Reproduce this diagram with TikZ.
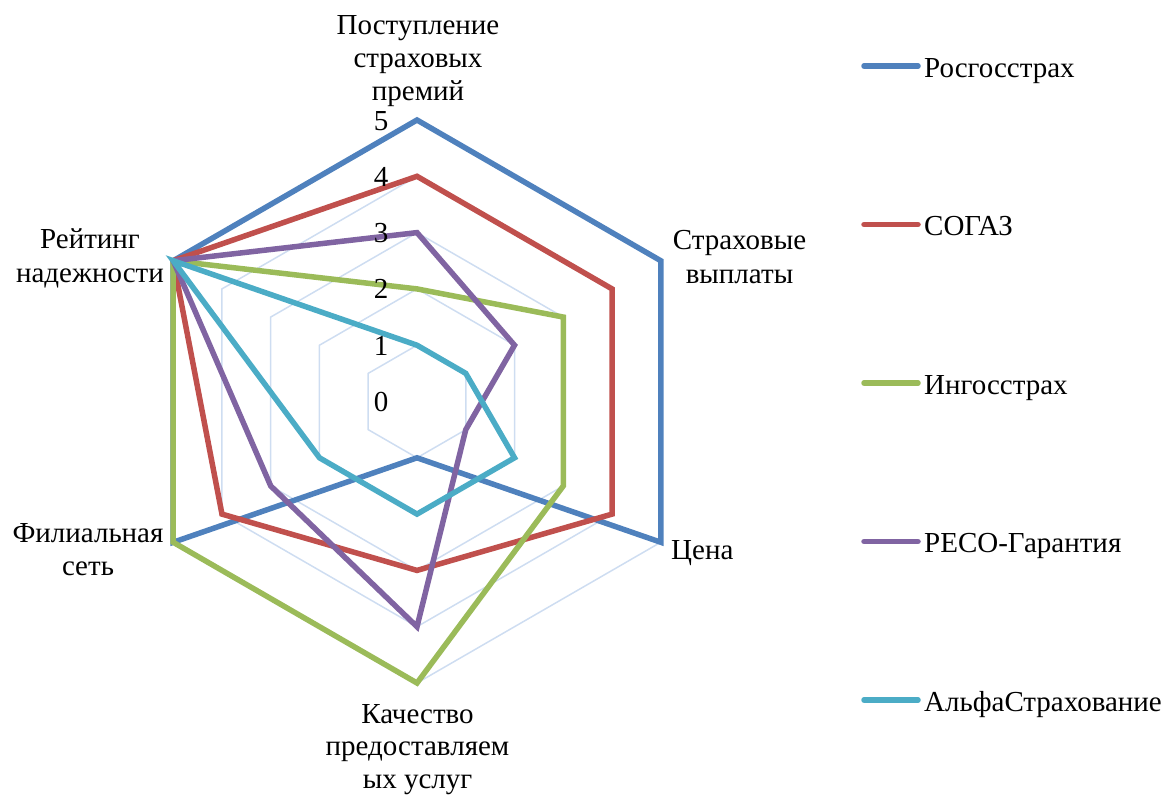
\documentclass[tikz,border=0pt]{standalone}
\usepackage{fontspec}
\setmainfont{Liberation Serif}
\definecolor{sBlue}{HTML}{4F81BD}
\definecolor{sRed}{HTML}{C0504D}
\definecolor{sGreen}{HTML}{9BBB59}
\definecolor{sPurple}{HTML}{8064A2}
\definecolor{sCyan}{HTML}{4BACC6}
\definecolor{gridc}{RGB}{206,221,241}
\begin{document}
\begin{tikzpicture}[x=1pt,y=1pt,
  series/.style={line width=5.5pt},
  gridline/.style={draw=gridc, line width=1.5pt},
  lbl/.style={font=\fontsize{29}{33}\selectfont, inner sep=0pt, anchor=base},
  leglbl/.style={font=\fontsize{29}{33}\selectfont, inner sep=0pt, anchor=base west},
  legline/.style={line width=5.5pt, line cap=round}]
\useasboundingbox (0,0) rectangle (1168,-796);
\def\R{56.3}
\coordinate (c) at (417,-401.5);
% grid rings
\foreach \v in {1,...,5}{
  \draw[gridline,shift={(c)}] (90:\v*\R) -- (30:\v*\R) -- (-30:\v*\R) -- (-90:\v*\R) -- (-150:\v*\R) -- (150:\v*\R) -- cycle;
}
% series: Поступление, Выплаты, Цена, Качество, Филиал, Рейтинг
\draw[series,sBlue,shift={(c)}] (90:5*\R) -- (30:5*\R) -- (-30:5*\R) -- (-90:1*\R) -- (-150:5*\R) -- (150:5*\R) -- cycle;
\draw[series,sRed,shift={(c)}] (90:4*\R) -- (30:4*\R) -- (-30:4*\R) -- (-90:3*\R) -- (-150:4*\R) -- (150:5*\R) -- cycle;
\draw[series,sGreen,shift={(c)}] (90:2*\R) -- (30:3*\R) -- (-30:3*\R) -- (-90:5*\R) -- (-150:5*\R) -- (150:5*\R) -- cycle;
\draw[series,sPurple,shift={(c)}] (90:3*\R) -- (30:2*\R) -- (-30:1*\R) -- (-90:4*\R) -- (-150:3*\R) -- (150:5*\R) -- cycle;
\draw[series,sCyan,shift={(c)}] (90:1*\R) -- (30:1*\R) -- (-30:2*\R) -- (-90:2*\R) -- (-150:2*\R) -- (150:5*\R) -- cycle;
% scale labels
\foreach \v in {0,...,5}{
  \node[lbl] (tick\v) at (381,{-(130+(5-\v)*\R)}) {\v};
}
% axis labels
\node[lbl] (ax1a) at (418,-34) {Поступление};
\node[lbl] (ax1b) at (418,-67) {страховых};
\node[lbl] (ax1c) at (418,-100) {премий};
\node[lbl] (ax2a) at (739.5,-249) {Страховые};
\node[lbl] (ax2b) at (739.5,-283) {выплаты};
\node[leglbl] (ax3) at (671,-559) {Цена};
\node[lbl] (ax4a) at (417.5,-723) {Качество};
\node[lbl] (ax4b) at (417.5,-755.5) {предоставляем};
\node[lbl] (ax4c) at (417.5,-788) {ых услуг};
\node[lbl] (ax5a) at (88,-542) {Филиальная};
\node[lbl] (ax5b) at (88,-575) {сеть};
\node[lbl] (ax6a) at (90,-248) {Рейтинг};
\node[lbl] (ax6b) at (90,-282) {надежности};
% legend
\foreach \n/\col/\ly/\txt in {1/sBlue/66/Росгосстрах, 2/sRed/224.5/СОГАЗ, 3/sGreen/383/Ингосстрах, 4/sPurple/541.5/РЕСО-Гарантия, 5/sCyan/700/АльфаСтрахование}{
  \coordinate (legs\n) at (864,-\ly);
  \coordinate (lege\n) at (918,-\ly);
  \draw[legline,\col] (legs\n) -- (lege\n);
  \node[leglbl] (leg\n) at (924,{-\ly-11}) {\txt};
}
\end{tikzpicture}
\end{document}
